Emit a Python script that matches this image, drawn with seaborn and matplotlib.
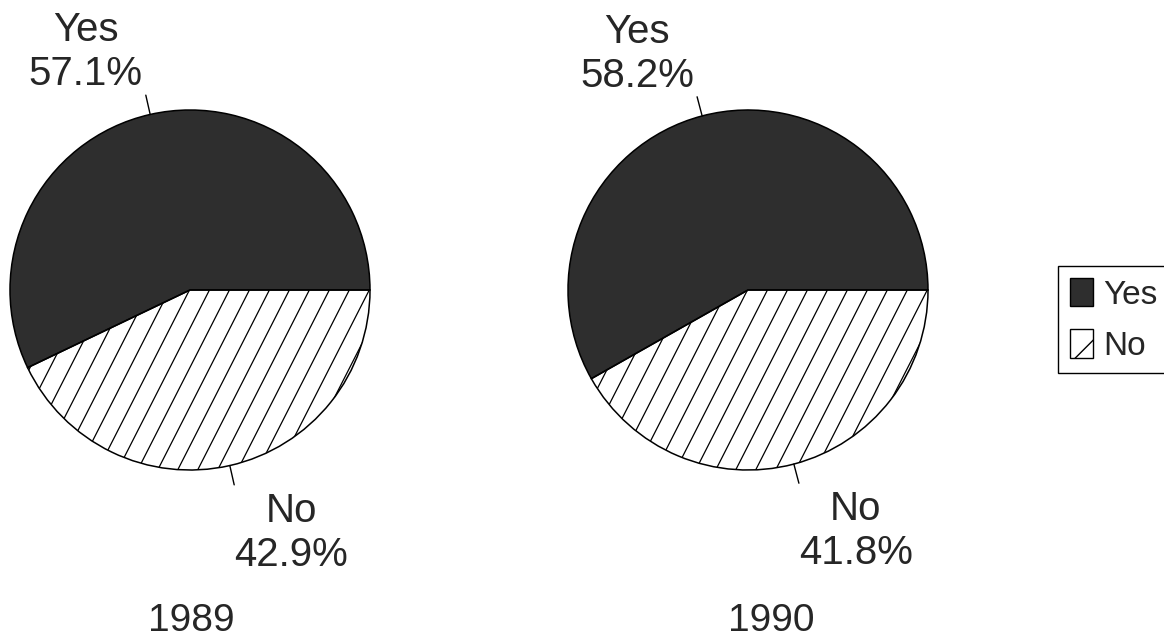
import numpy as np
import matplotlib
matplotlib.use("Agg")
import matplotlib.pyplot as plt
from matplotlib.patches import Patch
import seaborn as sns

sns.set_theme(style="white")
plt.rcParams["font.family"] = ["Liberation Sans", "DejaVu Sans"]
plt.rcParams["hatch.linewidth"] = 1.0

# --- data ---
years = ["1989", "1990"]
answers = ["Yes", "No"]
yes_share = [57.1, 58.2]
no_share = [42.9, 41.8]

YES_COLOR = "#2e2e2e"
W, H = 1164, 644

fig = plt.figure(figsize=(W / 100, H / 100), dpi=100)
fig.patch.set_facecolor("white")

# pie boxes in pixels: (left, top) of a 360x360 square
pie_boxes = [(10, 110), (568, 110)]
year_pos = [191, 771]


def hatch_wedge(ax, wedge, angle_deg=63, step=0.111):
    # diagonal hatch, steeper than matplotlib's built-in 45 deg
    slope = np.tan(np.radians(angle_deg))
    for x0 in np.arange(-3, 3, step):
        ys = np.array([-1.2, 1.2])
        xs = x0 + ys / slope
        (ln,) = ax.plot(xs, ys, color="black", lw=0.9, zorder=1)
        ln.set_clip_path(wedge)


for i, year in enumerate(years):
    left, top = pie_boxes[i]
    ax = fig.add_axes([left / W, 1 - (top + 360) / H, 360 / W, 360 / H])
    vals = [yes_share[i], no_share[i]]
    wedges, _ = ax.pie(
        vals,
        colors=[YES_COLOR, "none"],
        startangle=0,
        counterclock=True,
        radius=1,
        wedgeprops=dict(edgecolor="black", linewidth=1.1),
    )
    for w in wedges:
        w.set_zorder(2)
    hatch_wedge(ax, wedges[1])
    ax.set_xlim(-1, 1)
    ax.set_ylim(-1, 1)
    ax.set_aspect("equal")
    ax.axis("off")

    for j, w in enumerate(wedges):
        mid = np.radians((w.theta1 + w.theta2) / 2)
        x1, y1 = np.cos(mid), np.sin(mid)
        x2, y2 = 1.11 * np.cos(mid), 1.11 * np.sin(mid)
        ax.plot([x1, x2], [y1, y2], color="black", lw=1.0, clip_on=False, zorder=5)
        label = f"{answers[j]}\n{vals[j]:.1f}%"
        if j == 0:
            ax.annotate(label, (x2, y2), xytext=(-3, 2), textcoords="offset pixels",
                        ha="right", va="bottom", multialignment="center",
                        fontsize=29, linespacing=1.2, annotation_clip=False)
        else:
            ax.annotate(label, (x2, y2), xytext=(0, -7), textcoords="offset pixels",
                        ha="left", va="top", multialignment="center",
                        fontsize=29, linespacing=1.2, annotation_clip=False)

    fig.text(year_pos[i] / W, 1 - 603 / H, year, ha="center", va="top", fontsize=28)

handles = [
    Patch(facecolor=YES_COLOR, edgecolor="black", linewidth=1.0),
    Patch(facecolor="white", edgecolor="black", linewidth=1.0, hatch="/"),
]
leg = fig.legend(
    handles, answers,
    loc="upper left", bbox_to_anchor=(1058 / W, 1 - 266 / H),
    fontsize=24, frameon=True, fancybox=False, framealpha=1,
    edgecolor="black", handlelength=0.7, handleheight=0.95,
    handletextpad=0.3, labelspacing=0.55, borderpad=0.35, borderaxespad=0,
)
leg.get_frame().set_linewidth(1.0)

fig.savefig("out.png", dpi=100, facecolor="white")
